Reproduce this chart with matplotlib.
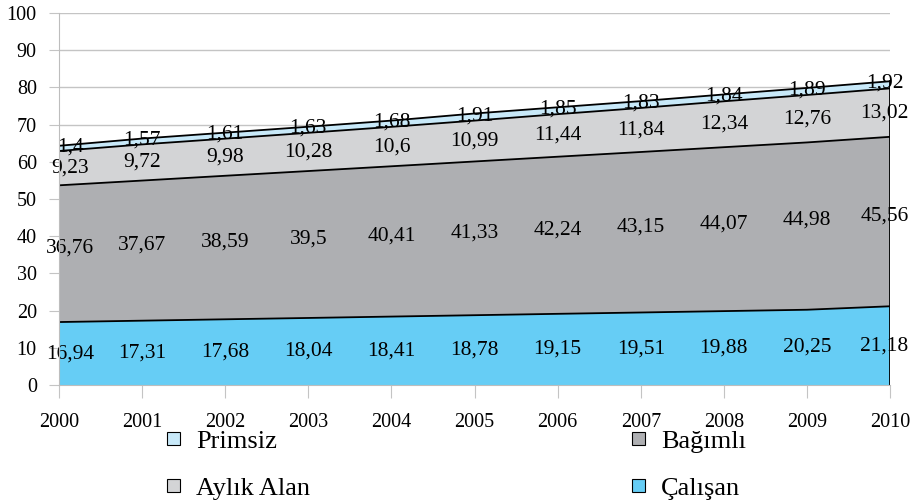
import matplotlib
matplotlib.use('Agg')
import matplotlib.pyplot as plt
from matplotlib.patches import Patch
import numpy as np

# yearly values, stacked bottom to top
years = [2000, 2001, 2002, 2003, 2004, 2005, 2006, 2007, 2008, 2009, 2010]
calisan = [16.94, 17.31, 17.68, 18.04, 18.41, 18.78, 19.15, 19.51, 19.88, 20.25, 21.18]
bagimli = [36.76, 37.67, 38.59, 39.5, 40.41, 41.33, 42.24, 43.15, 44.07, 44.98, 45.56]
aylik_alan = [9.23, 9.72, 9.98, 10.28, 10.6, 10.99, 11.44, 11.84, 12.34, 12.76, 13.02]
primsiz = [1.4, 1.57, 1.61, 1.63, 1.68, 1.91, 1.85, 1.83, 1.84, 1.89, 1.92]

names = ['Çalışan', 'Bağımlı', 'Aylık Alan', 'Primsiz']
colors = ['#66CDF5', '#AEAFB2', '#D3D4D6', '#C8E9F9']
label_shift = [0, 1.5, 0, 0.4]

plt.rcParams['font.family'] = ['Liberation Serif', 'DejaVu Serif']

fig = plt.figure(figsize=(9.24, 5.04), dpi=100)
ax = fig.add_axes([0.0639, 0.236, 0.8994, 0.738])

series = [calisan, bagimli, aylik_alan, primsiz]
x = np.array(years)
base = np.zeros(len(years))
for vals, col, shift in zip(series, colors, label_shift):
    vals = np.array(vals)
    top = base + vals
    ax.fill_between(x, base, top, facecolor=col, edgecolor='none', zorder=2)
    ax.plot(x, top, color='black', lw=1.3, zorder=3)
    for i, (xi, b, v) in enumerate(zip(x, base, vals)):
        # keep the edge labels nudged inside the plot
        dx = 8 if i == 0 else (-4 if i == len(x) - 1 else 0)
        ax.annotate(f'{v:g}'.replace('.', ','), (xi, b + v / 2 + shift),
                    xytext=(dx, 0), textcoords='offset points',
                    ha='center', va='center', fontsize=15.5, zorder=4)
    base = top

ax.plot([x[-1], x[-1]], [0, base[-1]], color='black', lw=1.3, zorder=3)

ax.set_xlim(2000, 2010)
ax.set_ylim(0, 100)
ax.set_xticks(years)
ax.set_yticks(range(0, 101, 10))
ax.grid(axis='y', color='#C4C4C4', lw=1, zorder=0)
for s in ['top', 'right']:
    ax.spines[s].set_visible(False)
for s in ['left', 'bottom']:
    ax.spines[s].set_color('#BDBDBD')
    ax.spines[s].set_zorder(5)
ax.tick_params(axis='y', length=7, color='#C4C4C4', labelsize=14.5, pad=9)
ax.tick_params(axis='x', length=9, color='#C4C4C4', labelsize=14.5, pad=11)

handles = [Patch(facecolor=colors[3], edgecolor='black', lw=0.8, label=names[3]),
           Patch(facecolor=colors[2], edgecolor='black', lw=0.8, label=names[2]),
           Patch(facecolor=colors[1], edgecolor='black', lw=0.8, label=names[1]),
           Patch(facecolor=colors[0], edgecolor='black', lw=0.8, label=names[0])]
fig.legend(handles=handles, ncol=2, loc='upper left', bbox_to_anchor=(0.181, 0.145),
           frameon=False, fontsize=19, handlelength=0.5, handleheight=0.4,
           handletextpad=0.6, columnspacing=12.2, labelspacing=0.95,
           borderaxespad=0, borderpad=0)

fig.savefig('out.png', dpi=100)
